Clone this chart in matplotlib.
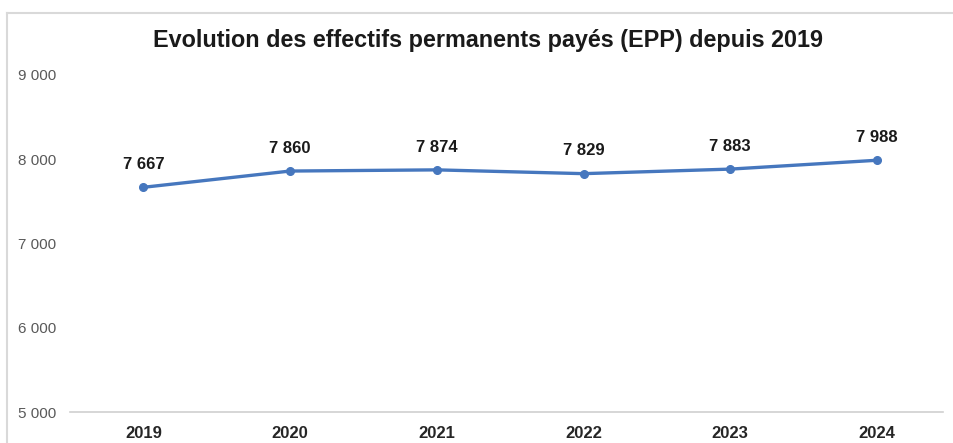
import matplotlib
matplotlib.use("Agg")
import matplotlib.pyplot as plt
from matplotlib.lines import Line2D

years = ["2019", "2020", "2021", "2022", "2023", "2024"]
epp = [7667, 7860, 7874, 7829, 7883, 7988]
yticks = [5000, 6000, 7000, 8000, 9000]
ytick_labels = ["5 000", "6 000", "7 000", "8 000", "9 000"]
value_labels = ["7 667", "7 860", "7 874", "7 829", "7 883", "7 988"]
title = "Evolution des effectifs permanents payés (EPP) depuis 2019"

plt.rcParams['font.family'] = ['Liberation Sans', 'DejaVu Sans']

W, H = 954, 443
fig = plt.figure(figsize=(W / 100, H / 100), dpi=100)
ax = fig.add_axes([70 / W, 1 - 412 / H, (943 - 70) / W, (412 - 75) / H])

x = list(range(len(years)))
ax.plot(x, epp, color="#4677BE", lw=2.4, marker="o", ms=5.5, solid_capstyle="round")
for xi, v, lab in zip(x, epp, value_labels):
    ax.annotate(lab, (xi, v), xytext=(0, 11), textcoords="offset points",
                ha="center", va="bottom", fontsize=12, fontweight="bold", color="#1a1a1a")

ax.set_xlim(-0.5, 5.45)
ax.set_ylim(5000, 9000)
ax.set_yticks(yticks)
ax.set_yticklabels(ytick_labels, fontsize=11, color="#595959")
ax.set_xticks(x)
ax.set_xticklabels(years, fontsize=12, fontweight="bold", color="#262626")
ax.tick_params(axis="both", length=0)
ax.tick_params(axis="y", pad=10)
ax.tick_params(axis="x", pad=10)
for s in ["top", "right", "left"]:
    ax.spines[s].set_visible(False)
ax.spines["bottom"].set_color("#d0d0d0")
ax.spines["bottom"].set_linewidth(1.2)

fig.text(488 / W, 1 - 40 / H, title, ha="center", va="center",
         fontsize=16.8, fontweight="bold", color="#1a1a1a")

# light frame (left and top edges)
fig.add_artist(Line2D([7 / W, 7 / W], [0, 1 - 13 / H], transform=fig.transFigure,
                      color="#d9d9d9", lw=1.5))
fig.add_artist(Line2D([7 / W, 1], [1 - 13 / H, 1 - 13 / H], transform=fig.transFigure,
                      color="#d9d9d9", lw=1.5))

fig.savefig("out.png", dpi=100)
